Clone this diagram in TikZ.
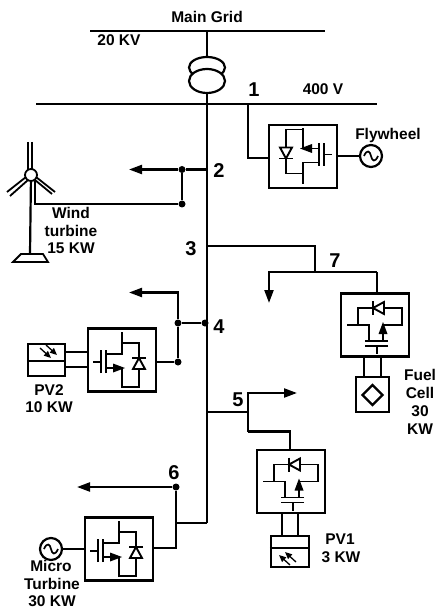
\documentclass[tikz,border=0pt]{standalone}
\usepackage{fontspec}
\setmainfont{Liberation Sans}
\usetikzlibrary{arrows.meta,shapes.geometric}

\tikzset{
  wire/.style={line width=2.2pt},
  feed/.style={wire,-{Triangle[length=13pt,width=9pt]}},
  conv/.style={draw,line width=2.2pt,minimum width=68pt,minimum height=63pt,inner sep=0pt},
  panel/.style={draw,line width=2.2pt,inner sep=0pt},
  junction/.style={circle,fill=black,inner sep=0pt,minimum size=7pt},
  gen/.style={circle,draw,line width=2.2pt,minimum size=22pt,inner sep=0pt},
  lbl/.style={font=\bfseries\fontsize{15.5}{15.5}\selectfont,inner sep=0pt},
  num/.style={font=\bfseries\fontsize{20}{20}\selectfont,inner sep=0pt},
  switchsym/.pic={
    \draw [line width=1.9pt] (0,-28) -- (0,-8) -- (16,-8);
    \fill (-3,-8) -- (9,-12.5) -- (9,-3.5) -- cycle;
    \draw [line width=1.9pt] (16,-13) -- (16,10);
    \draw [line width=1.9pt] (21,-13) -- (21,10);
    \draw [line width=1.9pt] (21,-2) -- (29,-2);
    \draw [line width=1.9pt] (16,6) -- (0,6) -- (0,28);
    \draw [line width=1.9pt] (0,-27) -- (-17,-27) -- (-17,17) -- (0,17);
    \draw [line width=1.9pt,fill=white] (-23,-9) -- (-11,-9) -- (-17,2) -- cycle;
    \draw [line width=1.9pt] (-24,2) -- (-10,2);
  },
  lightsym/.pic={
    \draw [line width=1.3pt,-{Triangle[length=7pt,width=6pt]}] (-8,-5) -- (3,5);
    \draw [line width=1.3pt,-{Triangle[length=7pt,width=6pt]}] (-2,-8) -- (9,2);
  },
  sinesym/.pic={
    \draw [line width=1.7pt] (-7,0) .. controls (-4,-7) and (-1,-5) .. (0,0) .. controls (1,5) and (4,7) .. (7,0);
  }
}

\begin{document}
\begin{tikzpicture}[x=1pt,y=-1pt]
\useasboundingbox (0,0) rectangle (439,609);

% buses and transformer
\coordinate (gridL) at (90,31);
\coordinate (gridR) at (325,31);
\coordinate (gridT) at (207,31);
\coordinate (busL) at (36,104);
\coordinate (busR) at (377,104);
\coordinate (busT) at (207,104);
\coordinate (mainB) at (207,523);
\draw [wire] (gridL) -- (gridR);
\draw [wire] (busL) -- (busR);
\node [ellipse,draw,line width=2.2pt,minimum width=36pt,minimum height=21pt,inner sep=0pt] (trafoU) at (207,67.5) {};
\node [ellipse,draw,line width=2.2pt,fill=white,minimum width=36pt,minimum height=24pt,inner sep=0pt] (trafoL) at (207,81) {};
\draw [wire] (gridT) -- (trafoU.north);
\draw [wire] (trafoL.south) -- (busT) -- (mainB);

\node [lbl] (mainlbl) at (207,17) {Main Grid};
\node [lbl] (hvlbl) at (119,40) {20 KV};
\node [lbl] (lvlbl) at (323,89) {400 V};
\node [num] (n1) at (254,90) {1};
\node [num] (n2) at (219,171) {2};
\node [num] (n3) at (191,249) {3};
\node [num] (n4) at (219,327) {4};
\node [num] (n5) at (238,400) {5};
\node [num] (n6) at (174,473) {6};
\node [num] (n7) at (335,261) {7};

% flywheel
\node [conv] (flyconv) at (303,156.5) {};
\pic at (303,156.5) {switchsym};
\node [gen] (flygen) at (371,156) {};
\pic at (371,156) {sinesym};
\coordinate (flyT) at (248,104);
\coordinate (flyB) at (248,158);
\draw [wire] (flyT) -- (flyB) -- (flyB -| flyconv.west);
\draw [wire] (flyconv.east |- flygen) -- (flygen);
\node [lbl] (flylbl) at (388,135) {Flywheel};

% wind turbine
\node [junction] (j2a) at (182,169.5) {};
\node [junction] (j2b) at (182,204) {};
\coordinate (m2) at (207,169.5);
\coordinate (tip2) at (129,169.5);
\coordinate (windB) at (35,204);
\coordinate (windT) at (35,181);
\draw [wire] (m2) -- (j2a);
\draw [feed] (j2a) -- (tip2);
\draw [wire] (j2a) -- (j2b) -- (windB) -- (windT);
\coordinate (baseT) at (30,254);
\draw [wire] (31,175) -- (baseT);
\node [circle,draw,line width=1.8pt,fill=white,minimum size=12pt,inner sep=0pt] (hub) at (31,175) {};
\draw [line width=1.8pt,fill=white] (13,262) -- (48,262) -- (43,254) -- (21,254) -- cycle;
\draw [line width=1.8pt] (28,142) -- (28,170);
\draw [line width=1.8pt] (32,142) -- (32,170);
\draw [line width=1.8pt] (7,192) -- (26,177);
\draw [line width=1.8pt] (10,196) -- (28,180);
\draw [line width=1.8pt] (36,177) -- (55,192);
\draw [line width=1.8pt] (35,180) -- (52,194);
\node [lbl] (windlbl1) at (71,213) {Wind};
\node [lbl] (windlbl2) at (71,231) {turbine};
\node [lbl] (windlbl3) at (71,248) {15 KW};

% fuel cell
\coordinate (m3) at (207,246);
\coordinate (c3) at (315,246);
\coordinate (d7) at (315,272);
\coordinate (l7) at (269,272);
\coordinate (r7) at (377,272);
\coordinate (tip7) at (269,303);
\node [conv] (fuelconv) at (375,325) {};
\pic [rotate=-90] at (375,325) {switchsym};
\draw [wire] (m3) -- (c3) -- (d7);
\draw [feed] (r7) -- (l7) -- (tip7);
\draw [wire] (r7) -- (r7 |- fuelconv.north);
\node [panel,minimum width=33pt,minimum height=35pt] (fuelbox) at (372.5,394.5) {};
\node [diamond,draw,line width=2.2pt,minimum width=21pt,minimum height=21pt,inner sep=0pt] (fueldia) at (372.5,395) {};
\coordinate (fw1) at (364,357);
\coordinate (fw2) at (381,357);
\draw [wire] (fw1) -- (fw1 |- fuelbox.north);
\draw [wire] (fw2) -- (fw2 |- fuelbox.north);
\node [lbl] (fuellbl1) at (420,375) {Fuel};
\node [lbl] (fuellbl2) at (420,393) {Cell};
\node [lbl] (fuellbl3) at (420,411) {30};
\node [lbl] (fuellbl4) at (420,429) {KW};

% PV2
\node [junction] (j4m) at (205,323) {};
\node [junction] (j4a) at (178,323) {};
\node [junction] (j4b) at (178,362) {};
\coordinate (u4) at (178,292.5);
\coordinate (tip4) at (129,292.5);
\draw [wire] (j4m) -- (j4a) -- (j4b);
\draw [feed] (j4a) -- (u4) -- (tip4);
\node [conv] (pv2conv) at (122,360) {};
\pic [rotate=180] at (122,360) {switchsym};
\draw [wire] (j4b) -- (j4b -| pv2conv.east);
\node [panel,minimum width=37pt,minimum height=32pt] (pv2box) at (46.5,360) {};
\coordinate (pv2div) at (46.5,361);
\draw [wire] (pv2div -| pv2box.west) -- (pv2div -| pv2box.east);
\pic at (48,353) {lightsym};
\coordinate (pv2a) at (65,352);
\coordinate (pv2b) at (65,367);
\draw [wire] (pv2a) -- (pv2a -| pv2conv.west);
\draw [wire] (pv2b) -- (pv2b -| pv2conv.west);
\node [lbl] (pv2lbl1) at (49,390) {PV2};
\node [lbl] (pv2lbl2) at (49,407) {10 KW};

% PV1
\coordinate (m5) at (207,412);
\coordinate (t5) at (248,393);
\coordinate (c5) at (248,412);
\coordinate (b5) at (248,431.5);
\coordinate (r5) at (290,431.5);
\coordinate (tip5) at (297,393);
\node [conv] (pv1conv) at (291,481.5) {};
\pic [rotate=-90] at (291,481.5) {switchsym};
\draw [wire] (m5) -- (c5);
\draw [feed] (b5) -- (t5) -- (tip5);
\draw [wire] (b5) -- (r5) -- (r5 |- pv1conv.north);
\node [panel,minimum width=38pt,minimum height=31pt] (pv1box) at (290,551.5) {};
\coordinate (pv1div) at (290,548);
\draw [wire] (pv1div -| pv1box.west) -- (pv1div -| pv1box.east);
\pic [rotate=180] at (288,557) {lightsym};
\coordinate (pw1) at (282,513);
\coordinate (pw2) at (298,513);
\draw [wire] (pw1) -- (pw1 |- pv1box.north);
\draw [wire] (pw2) -- (pw2 |- pv1box.north);
\node [lbl] (pv1lbl1) at (340,539) {PV1};
\node [lbl] (pv1lbl2) at (341,557) {3 KW};

% micro turbine
\node [junction] (j6) at (176,487) {};
\coordinate (tip6) at (77,487);
\coordinate (s6) at (176,523);
\coordinate (d6) at (176,548);
\node [conv] (microconv) at (119,549) {};
\pic [rotate=180] at (119,549) {switchsym};
\draw [feed] (j6) -- (tip6);
\draw [wire] (mainB) -- (s6);
\draw [wire] (j6) -- (d6) -- (d6 -| microconv.east);
\node [gen] (microgen) at (51,549) {};
\pic at (51,549) {sinesym};
\draw [wire] (microgen) -- (microgen -| microconv.west);
\node [lbl] (microlbl1) at (51,566) {Micro};
\node [lbl] (microlbl2) at (52,584) {Turbine};
\node [lbl] (microlbl3) at (52,601) {30 KW};
\end{tikzpicture}
\end{document}
